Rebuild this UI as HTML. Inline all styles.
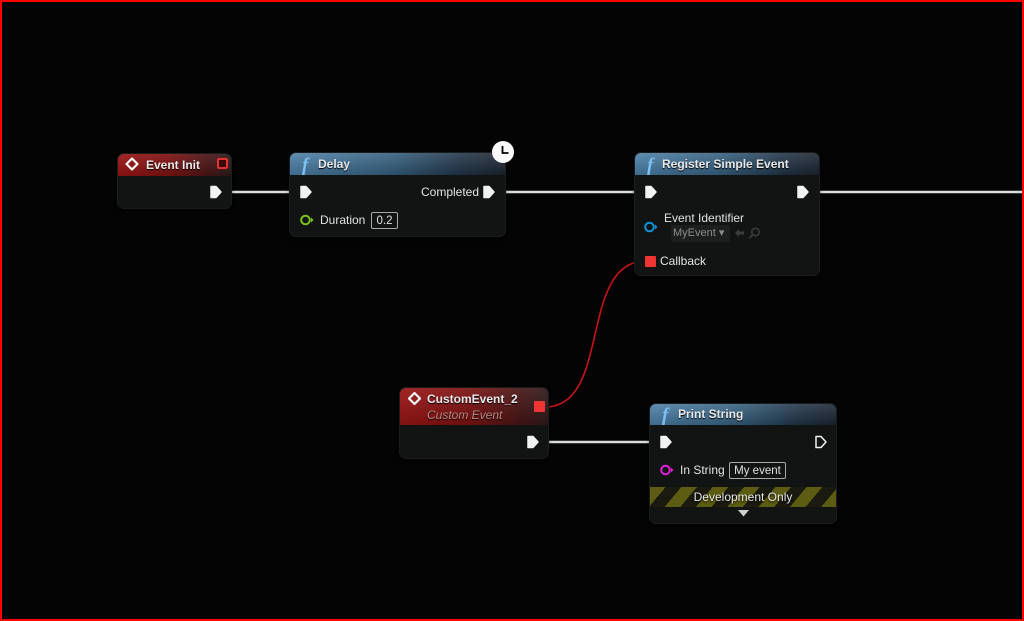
<!DOCTYPE html>
<html><head><meta charset="utf-8"><style>
html,body{margin:0;padding:0;background:#000;}
#c{position:relative;width:1024px;height:621px;overflow:hidden;background:#040404;font-family:"Liberation Sans",Arial,sans-serif;}
#frame{position:absolute;left:0;top:0;width:1024px;height:621px;box-sizing:border-box;border:2px solid #f00;z-index:10;}
.node{position:absolute;background:#121414;border-radius:6px;box-shadow:0 0 0 1px #1b1d1d, 0 2px 4px rgba(0,0,0,.8);overflow:hidden;z-index:2;}
.hdr{position:absolute;left:0;top:0;right:0;}
.blue{background:linear-gradient(to bottom,rgba(255,255,255,.12),rgba(0,0,0,.15)),linear-gradient(to right,#4a7ea6 0%,#35607f 45%,#1f3346 80%,#1a2330 100%);}
.red{background:linear-gradient(to bottom,rgba(255,255,255,.08),rgba(0,0,0,.15)),linear-gradient(to right,#9a1414 0%,#7e1212 45%,#4a1515 80%,#2e1a1a 100%);}
.t{position:absolute;color:#e8e8e8;font-size:12px;font-weight:bold;white-space:nowrap;line-height:14px;text-shadow:0 1px 1px #000;}
.l{position:absolute;color:#e2e2e2;font-size:12px;white-space:nowrap;line-height:14px;z-index:3;}
.box{position:absolute;border:1px solid #a8a8a8;border-radius:2px;color:#e0e0e0;font-size:11.5px;text-align:center;z-index:3;display:flex;align-items:center;justify-content:center;box-sizing:border-box;}
svg{position:absolute;left:0;top:0;}
</style></head><body><div id="c">

<svg width="1024" height="621" style="z-index:1">
  <g stroke="#dcdcdc" stroke-width="2.5" fill="none">
    <line x1="222" y1="192" x2="300" y2="192"/>
    <line x1="495" y1="192" x2="645" y2="192"/>
    <line x1="808" y1="192" x2="1024" y2="192"/>
    <line x1="538" y1="442" x2="660" y2="442"/>
  </g>
  <path d="M545,407 C612,407 578,261 646,261" stroke="#c41414" stroke-width="1.6" fill="none"/>
</svg>

<!-- Event Init -->
<div class="node" style="left:118px;top:154px;width:113px;height:54px;">
  <div class="hdr red" style="height:22px;"></div>
  <div class="t" style="left:28px;top:4px;">Event Init</div>
</div>

<!-- Delay -->
<div class="node" style="left:290px;top:153px;width:215px;height:83px;">
  <div class="hdr blue" style="height:22px;"></div>
  <div class="t" style="left:28px;top:4px;">Delay</div>
</div>
<div class="l" style="left:421px;top:185px;">Completed</div>
<div class="l" style="left:320px;top:213px;">Duration</div>
<div class="box" style="left:371px;top:212px;width:27px;height:17px;">0.2</div>

<!-- Register Simple Event -->
<div class="node" style="left:635px;top:153px;width:184px;height:122px;">
  <div class="hdr blue" style="height:22px;"></div>
  <div class="t" style="left:27px;top:4px;">Register Simple Event</div>
</div>
<div class="l" style="left:664px;top:211px;">Event Identifier</div>
<div style="position:absolute;left:671px;top:225px;width:59px;height:17px;background:#1d1f1f;border-radius:2px;z-index:3;color:#8c8c8c;font-size:11px;line-height:17px;padding-left:2px;box-sizing:border-box;">MyEvent &#9662;</div>
<div class="l" style="left:660px;top:254px;">Callback</div>

<!-- CustomEvent_2 -->
<div class="node" style="left:400px;top:388px;width:148px;height:70px;">
  <div class="hdr red" style="height:37px;"></div>
  <div class="t" style="left:27px;top:4px;">CustomEvent_2</div>
  <div class="t" style="left:27px;top:20px;font-weight:normal;font-style:italic;color:#b88a80;">Custom Event</div>
</div>

<!-- Print String -->
<div class="node" style="left:650px;top:404px;width:186px;height:119px;">
  <div class="hdr blue" style="height:21px;"></div>
  <div class="t" style="left:28px;top:3px;">Print String</div>
  <div style="position:absolute;left:0;top:83px;width:186px;height:20px;background:repeating-linear-gradient(130deg,#5c5c12 0px,#5c5c12 12px,#1a1a10 12px,#1a1a10 24px);"></div>
</div>
<div class="l" style="left:680px;top:463px;">In String</div>
<div class="box" style="left:729px;top:462px;width:57px;height:17px;">My event</div>
<div class="l" style="left:650px;top:490px;width:186px;text-align:center;color:#e6e6e6;text-shadow:0 1px 2px #000;">Development Only</div>

<svg width="1024" height="621" style="z-index:4">
  <!-- exec pins -->
  <g fill="#f2f2f2" stroke="#f2f2f2" stroke-width="1.5" stroke-linejoin="round">
    <path d="M211,186.5 h5 l5,5.5 l-5,5.5 h-5 z"/>
    <path d="M301,186.5 h5 l5,5.5 l-5,5.5 h-5 z"/>
    <path d="M484,186.5 h5 l5,5.5 l-5,5.5 h-5 z"/>
    <path d="M646,186.5 h5 l5,5.5 l-5,5.5 h-5 z"/>
    <path d="M798,186.5 h5 l5,5.5 l-5,5.5 h-5 z"/>
    <path d="M528,436.5 h5 l5,5.5 l-5,5.5 h-5 z"/>
    <path d="M661,436.5 h5 l5,5.5 l-5,5.5 h-5 z"/>
  </g>
  <path d="M816,436.5 h5 l5,5.5 l-5,5.5 h-5 z" fill="none" stroke="#f2f2f2" stroke-width="1.5" stroke-linejoin="round"/>
  <!-- data pins -->
  <g fill="none" stroke-width="2">
    <circle cx="305.5" cy="220" r="4.3" stroke="#7ac21c"/>
    <circle cx="649.5" cy="227" r="4.3" stroke="#0f92d8"/>
    <circle cx="665.5" cy="470" r="4.3" stroke="#e020d6"/>
  </g>
  <path d="M311,217.5 l2.5,2.5 l-2.5,2.5z" fill="#7ac21c"/>
  <path d="M655,224.5 l2.5,2.5 l-2.5,2.5z" fill="#0f92d8"/>
  <path d="M671,467.5 l2.5,2.5 l-2.5,2.5z" fill="#e020d6"/>
  <!-- red square pins -->
  <rect x="218" y="159" width="9" height="9" fill="#3a0808" stroke="#ff3333" stroke-width="1.8" rx="1"/>
  <rect x="534" y="401" width="11" height="11" fill="#f03535" rx="1"/>
  <rect x="645" y="256" width="11" height="11" fill="#f03535" rx="1"/>
  <!-- diamond event icons -->
  <g fill="none" stroke="#f4f4f4" stroke-width="2.2" stroke-linejoin="round">
    <path d="M132,158.5 l5.5,5.5 l-5.5,5.5 l-5.5,-5.5 z"/>
    <path d="M414.5,393 l5.5,5.5 l-5.5,5.5 l-5.5,-5.5 z"/>
  </g>
  <!-- function f icons -->
  <g font-family="Liberation Serif, serif" font-style="italic" font-weight="bold" font-size="19" fill="#7cc0f2">
    <text x="302" y="171">f</text>
    <text x="647" y="171">f</text>
    <text x="662" y="421">f</text>
  </g>
  <!-- clock -->
  <circle cx="503" cy="152" r="11" fill="#fafafa"/>
  <path d="M502.5,146 v7 h6" fill="none" stroke="#000" stroke-width="1.8"/>
  <!-- arrow & magnifier -->
  <path d="M735,233 l4,-4 v2.5 h5 v3 h-5 v2.5 z" fill="#3c3c3c"/>
  <circle cx="755.5" cy="232" r="3.8" fill="none" stroke="#3c3c3c" stroke-width="1.5"/>
  <line x1="752.5" y1="235" x2="749.5" y2="238" stroke="#3c3c3c" stroke-width="1.6"/>
  <!-- dropdown triangle -->
  <path d="M738,510 h11 l-5.5,6.5 z" fill="#d0d0d0"/>
</svg>

<div id="frame"></div>
</div></body></html>
